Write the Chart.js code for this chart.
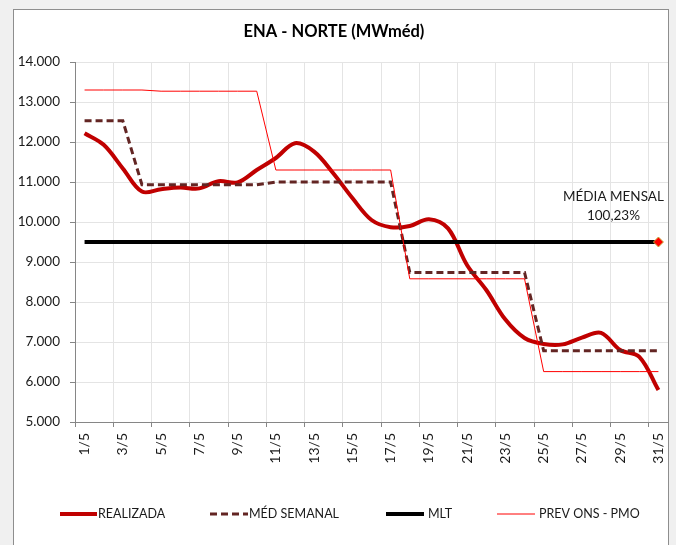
<!DOCTYPE html>
<html><head><meta charset="utf-8">
<script src="https://cdn.jsdelivr.net/npm/chart.js@4/dist/chart.umd.min.js"></script>
<style>
html,body{margin:0;padding:0;background:#f0f0f0;width:676px;height:545px;overflow:hidden;}
#frame{position:absolute;left:13px;top:9px;width:654px;height:545px;background:#fff;border:1px solid #8e8e8e;}
#wrap{position:absolute;left:0;top:0;width:676px;height:545px;}
</style></head><body>
<div id="frame"></div>
<div id="wrap"><canvas id="c" width="676" height="545"></canvas></div>
<script>
const categories = ['1/5','2/5','3/5','4/5','5/5','6/5','7/5','8/5','9/5','10/5','11/5','12/5','13/5','14/5','15/5','16/5','17/5','18/5','19/5','20/5','21/5','22/5','23/5','24/5','25/5','26/5','27/5','28/5','29/5','30/5','31/5'];
const realizada = [12220,11930,11340,10760,10820,10860,10840,11020,10990,11300,11600,11970,11760,11220,10600,10050,9870,9900,10070,9840,8920,8300,7560,7100,6950,6940,7110,7230,6800,6630,5800];
const medSemanal = [12530,12530,12530,10930,10930,10930,10930,10930,10930,10930,11000,11000,11000,11000,11000,11000,11000,8740,8740,8740,8740,8740,8740,8740,6780,6780,6780,6780,6780,6780,6780];
const mlt = [9500,9500,9500,9500,9500,9500,9500,9500,9500,9500,9500,9500,9500,9500,9500,9500,9500,9500,9500,9500,9500,9500,9500,9500,9500,9500,9500,9500,9500,9500,9500];
const prevOnsPmo = [13300,13300,13300,13300,13270,13270,13270,13270,13270,13270,11300,11300,11300,11300,11300,11300,11300,8580,8580,8580,8580,8580,8580,8580,6260,6260,6260,6260,6260,6260,6260];
const yTicks = [5000,6000,7000,8000,9000,10000,11000,12000,13000,14000];
const mediaMensalLabel = ['MÉDIA MENSAL','100,23%'];
const mediaMensalPoint = mlt.map((v,i)=> i===mlt.length-1 ? v : null);

const FONT = 'Lato, "Open Sans", sans-serif';
const TXT = '#1a1a1a';
const fmt = v => String(v).replace(/\B(?=(\d{3})+(?!\d))/g,'.');

const legendItems = [
  {label:'REALIZADA', color:'#C00000', width:4, dash:[], x0:60, x1:97, tx:98},
  {label:'MÉD SEMANAL', color:'#632523', width:3, dash:[7,4], x0:210, x1:248, tx:249},
  {label:'MLT', color:'#000000', width:4, dash:[], x0:386, x1:424, tx:428},
  {label:'PREV ONS - PMO', color:'#FF0000', width:1, dash:[], x0:497, x1:535, tx:539}
];

const extras = {
  id:'extras',
  afterDraw(chart){
    const ctx = chart.ctx;
    ctx.save();
    const ly = 514;
    legendItems.forEach(it=>{
      ctx.beginPath();
      ctx.setLineDash(it.dash);
      ctx.strokeStyle = it.color;
      ctx.lineWidth = it.width;
      ctx.moveTo(it.x0, ly); ctx.lineTo(it.x1, ly); ctx.stroke();
      ctx.setLineDash([]);
      ctx.fillStyle = TXT;
      ctx.font = '12.5px ' + FONT;
      ctx.textAlign = 'left'; ctx.textBaseline = 'middle';
      ctx.fillText(it.label, it.tx, ly);
    });
    const xs = chart.scales.x, ys = chart.scales.y;
    const px = xs.getPixelForValue(mlt.length-1) - 45;
    const py = ys.getPixelForValue(mlt[mlt.length-1]);
    ctx.font = '13.5px ' + FONT;
    ctx.textAlign = 'center';
    ctx.fillStyle = TXT;
    ctx.fillText(mediaMensalLabel[0], px, py - 45);
    ctx.fillText(mediaMensalLabel[1], px, py - 26);
    ctx.restore();
  }
};

new Chart(document.getElementById('c'), {
  type:'line',
  data:{
    labels: categories,
    datasets:[
      {label:'REALIZADA', data:realizada, borderColor:'#C00000', borderWidth:4, tension:0.35, pointRadius:0, fill:false, order:4},
      {label:'MÉD SEMANAL', data:medSemanal, borderColor:'#632523', borderWidth:3, borderDash:[7,4], tension:0, pointRadius:0, fill:false, order:3},
      {label:'MLT', data:mlt, borderColor:'#000000', borderWidth:4, tension:0, pointRadius:0, fill:false, order:2},
      {label:'PREV ONS - PMO', data:prevOnsPmo, borderColor:'#FF0000', borderWidth:1, tension:0, pointRadius:0, fill:false, order:1},
      {label:'media', data:mediaMensalPoint, showLine:false, pointStyle:'rectRot', pointRadius:5, pointBackgroundColor:'#FF0000', pointBorderColor:'#C8B040', pointBorderWidth:1, order:0}
    ]
  },
  options:{
    responsive:false, animation:false,
    layout:{padding:{left:0,right:8,top:0,bottom:0}},
    plugins:{
      legend:{display:false}, tooltip:{enabled:false},
      title:{display:true, text:'ENA - NORTE (MWméd)', color:'#000', font:{family:FONT,size:16.5,weight:'bold',lineHeight:1.2}, padding:{top:22,bottom:20.2}}
    },
    scales:{
      x:{
        offset:true,
        grid:{offset:true, tickLength:5,
          color: c => (c.index!==undefined && c.index%2===0) ? '#e4e4e4' : 'rgba(0,0,0,0)',
          tickColor: c => (c.index!==undefined && c.index%2===0) ? '#868686' : 'rgba(0,0,0,0)'},
        border:{color:'#868686', width:1},
        ticks:{autoSkip:false, minRotation:90, maxRotation:90, padding:6, color:TXT, font:{family:FONT,size:14},
          callback:(v,i)=> i%2===0 ? categories[i] : ''},
        afterFit: s => { s.height = 123; s.paddingLeft = 0; s.paddingRight = 0; }
      },
      y:{
        min:5000, max:14000,
        afterBuildTicks: s => { s.ticks = yTicks.map(v=>({value:v})); },
        grid:{color:'#e4e4e4', tickColor:'#868686', tickLength:5},
        border:{color:'#868686', width:1},
        ticks:{padding:10, color:TXT, font:{family:FONT,size:13.5}, callback:v=>fmt(v)},
        afterFit: s => { s.width = 75; }
      }
    }
  },
  plugins:[extras]
});
</script>
</body></html>
